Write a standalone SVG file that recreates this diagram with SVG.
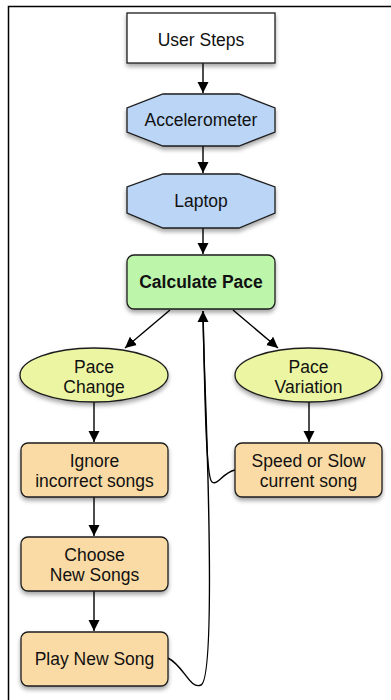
<svg xmlns="http://www.w3.org/2000/svg" width="391" height="700" viewBox="0 0 391 700">
<defs>
<filter id="sh" x="-20%" y="-20%" width="140%" height="160%">
<feDropShadow dx="0" dy="3" stdDeviation="2.2" flood-color="#000" flood-opacity="0.35"/>
</filter>
<marker id="ah" markerWidth="12" markerHeight="12" viewBox="0 0 12 12" refX="11" refY="6" orient="auto" markerUnits="userSpaceOnUse">
<path d="M0,0.5 L11,6 L0,11.5 Z" fill="#000"/>
</marker>
<style>
.n{stroke:#1e1e1e;stroke-width:1.3;filter:url(#sh)}
.t{font-family:"Liberation Sans",Arial,sans-serif;font-size:17.5px;fill:#111;text-anchor:middle}
.b{font-weight:bold}
.c{fill:none;stroke:#000;stroke-width:1.4}
.blue{fill:#bad5f6}
.green{fill:#bdf6ab}
.yel{fill:#ecf6a2}
.org{fill:#fbdba5}
</style>
</defs>
<rect width="391" height="700" fill="#fff"/>
<path d="M391,6.5 H8.5 V700" fill="none" stroke="#000" stroke-width="1.5"/>

<g id="connectors">
<path class="c" d="M203,63 V93" marker-end="url(#ah)"/>
<path class="c" d="M203,146 V173" marker-end="url(#ah)"/>
<path class="c" d="M203,228 V254" marker-end="url(#ah)"/>
<path class="c" d="M170,310 L125,348" marker-end="url(#ah)"/>
<path class="c" d="M233,310 L278,348" marker-end="url(#ah)"/>
<path class="c" d="M94,402 V442" marker-end="url(#ah)"/>
<path class="c" d="M309,402 V442" marker-end="url(#ah)"/>
<path class="c" d="M94,497 V536" marker-end="url(#ah)"/>
<path class="c" d="M94,591 V631" marker-end="url(#ah)"/>
<path class="c" d="M168,658 C184,666 190,690 201,685 C212,680 210,560 208,480 C206,400 203,340 203,311" marker-end="url(#ah)"/>
<path class="c" d="M235,470 C222,473 218,486 212,482 C206,478 205,400 203,311"/>
</g>

<g id="user-steps">
<rect class="n" x="127" y="13" width="148" height="50" fill="#fff"/>
<text class="t" x="201" y="45.5">User Steps</text>
</g>
<g id="accelerometer">
<polygon class="n blue" points="163,94 239,94 275,108 275,132 239,146 163,146 127,132 127,108"/>
<text class="t" x="201" y="126">Accelerometer</text>
</g>
<g id="laptop">
<polygon class="n blue" points="163,174 239,174 275,187 275,213 239,228 163,228 127,213 127,187"/>
<text class="t" x="201" y="207">Laptop</text>
</g>
<g id="calculate-pace">
<rect class="n green" x="127" y="255" width="148" height="54" rx="7"/>
<text class="t b" x="201" y="288">Calculate Pace</text>
</g>
<g id="pace-change">
<ellipse class="n yel" cx="94" cy="375" rx="74" ry="27"/>
<text class="t" x="94" y="373">Pace</text>
<text class="t" x="94" y="393">Change</text>
</g>
<g id="pace-variation">
<ellipse class="n yel" cx="308.5" cy="375" rx="73.5" ry="27"/>
<text class="t" x="308.5" y="373">Pace</text>
<text class="t" x="308.5" y="393">Variation</text>
</g>
<g id="ignore-incorrect-songs">
<rect class="n org" x="21" y="443" width="147" height="54" rx="7"/>
<text class="t" x="94.5" y="467">Ignore</text>
<text class="t" x="94.5" y="487">incorrect songs</text>
</g>
<g id="speed-or-slow">
<rect class="n org" x="235" y="443" width="147" height="54" rx="7"/>
<text class="t" x="308.5" y="467">Speed or Slow</text>
<text class="t" x="308.5" y="487">current song</text>
</g>
<g id="choose-new-songs">
<rect class="n org" x="21" y="537" width="147" height="54" rx="7"/>
<text class="t" x="94.5" y="561">Choose</text>
<text class="t" x="94.5" y="581">New Songs</text>
</g>
<g id="play-new-song">
<rect class="n org" x="21" y="632" width="147" height="54" rx="7"/>
<text class="t" x="94.5" y="665">Play New Song</text>
</g>
</svg>
